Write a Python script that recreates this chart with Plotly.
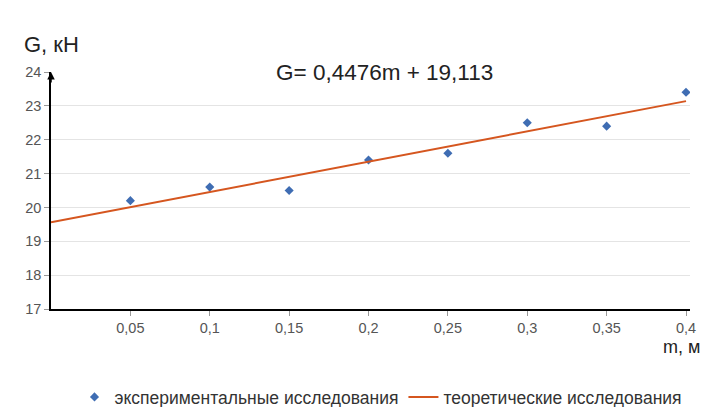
import plotly.graph_objects as go

# experimental data
m_exp = [0.05, 0.1, 0.15, 0.2, 0.25, 0.3, 0.35, 0.4]
g_exp = [20.2, 20.6, 20.5, 21.4, 21.6, 22.5, 22.4, 23.4]

# theoretical (trend) line endpoints
m_theo = [0.0, 0.4]
g_theo = [19.56, 23.14]

x_ticks = [0.05, 0.1, 0.15, 0.2, 0.25, 0.3, 0.35, 0.4]
x_ticklabels = ["0,05", "0,1", "0,15", "0,2", "0,25", "0,3", "0,35", "0,4"]
y_ticks = [17, 18, 19, 20, 21, 22, 23, 24]

font_family = "Liberation Sans, Arial, sans-serif"

OFF = 8  # default page body margin
W, H = 711 - OFF, 407 - OFF
L, T = 51 - OFF, 72 - OFF
PW, PH = 639, 237
R, B = W - L - PW, H - T - PH


def px(x):
    return (x - OFF - L) / PW


def py(y):
    return (T + PH - (y - OFF)) / PH


fig = go.Figure()
fig.add_trace(go.Scatter(
    x=m_exp, y=g_exp, mode="markers",
    name="экспериментальные исследования",
    marker=dict(symbol="diamond", size=7, color="#3F6DB3"),
))
fig.add_trace(go.Scatter(
    x=m_theo, y=g_theo, mode="lines",
    name="теоретические исследования",
    line=dict(color="#D5561F", width=2),
))

fig.update_layout(
    width=W, height=H,
    margin=dict(l=L, r=R, t=T, b=B, autoexpand=False),
    paper_bgcolor="white", plot_bgcolor="white",
    font=dict(family=font_family, color="#444"),
    showlegend=True,
    legend=dict(orientation="h", x=px(381), xanchor="center", y=py(397), yanchor="middle",
                font=dict(size=17.5, color="#333"), itemwidth=30,
                bgcolor="rgba(0,0,0,0)"),
    separators=", ",
)
fig.update_xaxes(
    range=[0, 0.4025], tickvals=x_ticks, ticktext=x_ticklabels,
    showgrid=False, zeroline=False,
    showline=True, linecolor="black", linewidth=1.5,
    ticks="outside", ticklen=5, tickcolor="#999",
    tickfont=dict(size=14.5, color="#555"),
)
fig.update_yaxes(
    range=[17, 24], tickvals=y_ticks,
    showgrid=True, gridcolor="#E4E4E4", gridwidth=1, zeroline=False,
    showline=True, linecolor="black", linewidth=1.5,
    ticks="outside", ticklen=5, tickcolor="#999",
    tickfont=dict(size=14.5, color="#555"),
)

# arrow at top of y axis
fig.add_annotation(x=0, y=24, xref="x", yref="y", ax=0, ay=12, axref="pixel", ayref="pixel",
                   showarrow=True, arrowhead=2, arrowsize=1, arrowwidth=1.5,
                   arrowcolor="black", text="")

fig.add_annotation(text="G= 0,4476m + 19,113", x=px(384), y=py(72), xref="paper", yref="paper",
                   xanchor="center", yanchor="middle", showarrow=False,
                   font=dict(size=22.5, color="#222"))
fig.add_annotation(text="G, кН", x=px(22), y=py(44), xref="paper", yref="paper",
                   xanchor="left", yanchor="middle", showarrow=False,
                   font=dict(size=22, color="#222"))
fig.add_annotation(text="m, м", x=px(702), y=py(347), xref="paper", yref="paper",
                   xanchor="right", yanchor="middle", showarrow=False,
                   font=dict(size=18, color="#222"))

fig.write_html("out.html")
